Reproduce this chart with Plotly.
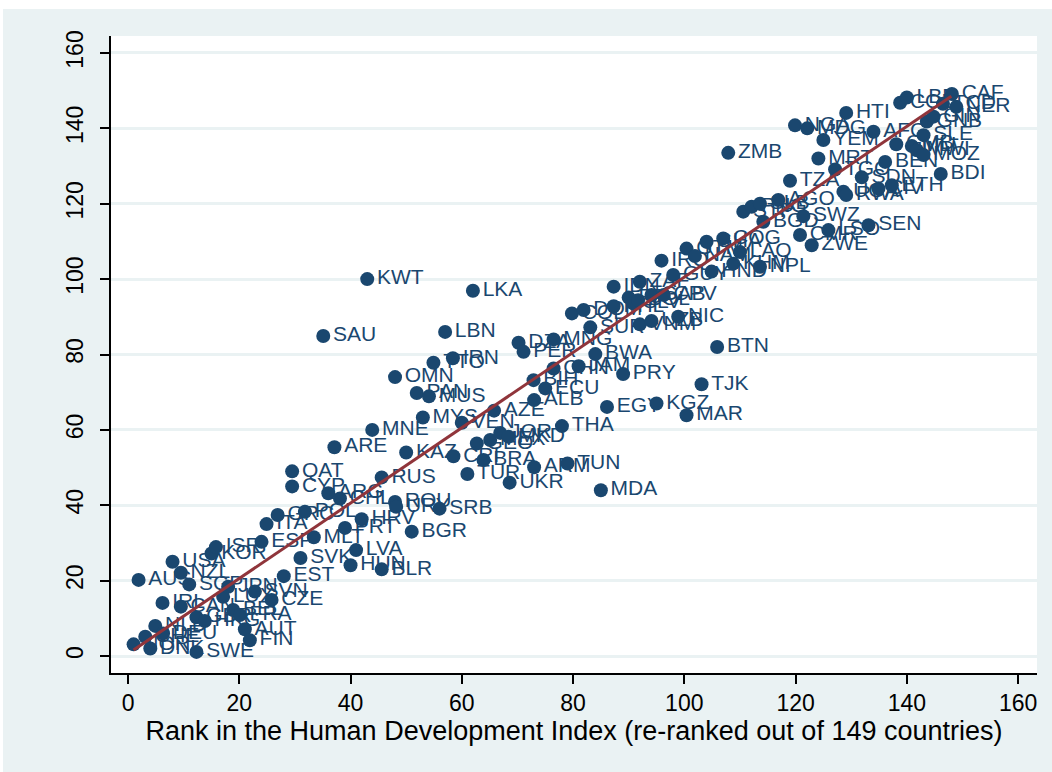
import plotly.graph_objects as go

# ---- data ----
countries = [
    "NOR","AUS","CHE","DNK","NLD","DEU","IRL","USA","NZL","CAN",
    "SGP","SWE","GBR","HKG","KOR","ISR","LUX","JPN","BEL","FRA",
    "AUT","FIN","SVN","ESP","ITA","CZE","GRC","EST","QAT","CYP",
    "SVK","POL","MLT","SAU","ARG","ARE","CHL","PRT","HUN","LVA",
    "HRV","KWT","MNE","RUS","BLR","OMN","ROU","URY","KAZ","BGR",
    "PAN","MYS","MUS","TTO","SRB","LBN","IRN","CRI","VEN","TUR",
    "LKA","GEO","BRA","MEX","AZE","JOR","MKD","UKR","DZA","PER",
    "ALB","ARM","BIH","ECU","CHN","MNG","THA","TUN","COL","JAM",
    "DOM","SUR","BWA","MDA","EGY","PHL","IDN","PRY","FJI","SLV",
    "BOL","VNM","ZAF","GAB","UZB","KGZ","IRQ","CPV","GUY","NIC",
    "MAR","GTM","NAM","TJK","GHA","HND","BTN","COG","ZMB","KHM",
    "LAO","STP","PNG","NPL","SLB","BGD","AGO","TZA","NGA","SWZ",
    "CMR","MDG","ZWE","MRT","YEM","LSO","TGO","UGA","RWA","HTI",
    "SDN","SEN","AFG","CIV","BEN","ETH","GMB","COD","LBR","MLI",
    "MWI","MOZ","SLE","GNB","GIN","BDI","CAF","NER","TCD",
]
hdi_rank = [
    1.0, 1.9, 3.1, 4.0, 4.9, 6.3, 6.2, 8.0, 9.5, 9.5,
    11.0, 12.3, 12.3, 13.8, 15.0, 15.8, 17.1, 18.0, 18.9, 20.1,
    21.0, 21.9, 22.8, 24.0, 24.9, 25.8, 26.9, 28.0, 29.5, 29.5,
    31.0, 31.8, 33.4, 35.1, 36.0, 37.1, 38.1, 39.0, 40.0, 41.0,
    42.0, 43.0, 43.9, 45.6, 45.6, 48.0, 48.0, 48.2, 50.0, 51.0,
    51.9, 53.0, 54.1, 54.9, 56.0, 57.0, 58.4, 58.5, 60.0, 61.0,
    62.0, 62.7, 63.9, 65.1, 65.8, 66.9, 68.4, 68.6, 70.2, 71.1,
    73.0, 73.0, 72.9, 75.0, 76.5, 76.5, 78.0, 79.0, 79.8, 81.0,
    81.9, 83.1, 84.0, 85.0, 86.1, 87.3, 87.3, 89.0, 90.0, 90.8,
    91.7, 92.0, 92.0, 94.1, 94.1, 95.0, 95.9, 96.3, 98.0, 98.9,
    100.4, 100.4, 101.9, 103.1, 104.0, 104.9, 105.9, 107.0, 107.9, 108.8,
    110.0, 110.6, 112.1, 113.6, 113.6, 114.2, 116.9, 119.0, 119.9, 121.4,
    120.8, 122.1, 122.9, 124.1, 125.0, 125.9, 127.1, 128.6, 129.1, 129.1,
    131.9, 133.1, 134.0, 134.9, 136.1, 137.3, 138.1, 138.8, 140.0, 140.9,
    141.8, 143.0, 143.0, 143.6, 144.8, 146.1, 148.1, 148.9, 146.5,
]
other_rank = [
    3.1, 20.2, 5.1, 2.0, 8.0, 6.0, 14.1, 25.0, 22.1, 13.1,
    19.0, 1.1, 10.3, 9.3, 27.2, 28.9, 15.7, 18.4, 12.2, 10.9,
    7.1, 4.2, 17.1, 30.3, 35.0, 14.9, 37.4, 21.2, 49.0, 45.0,
    26.0, 38.3, 31.5, 84.9, 43.2, 55.4, 41.8, 34.0, 24.1, 28.1,
    36.3, 100.0, 60.0, 47.4, 23.0, 74.0, 40.9, 39.6, 54.0, 33.0,
    69.8, 63.3, 68.9, 77.8, 39.1, 86.0, 79.0, 53.0, 61.9, 48.3,
    96.9, 56.4, 52.0, 57.3, 65.1, 59.2, 58.2, 46.0, 83.1, 80.7,
    67.9, 50.1, 73.2, 71.0, 76.3, 84.0, 61.0, 51.1, 90.9, 76.9,
    91.8, 87.2, 80.1, 44.0, 66.1, 92.8, 98.0, 74.8, 95.1, 93.6,
    94.4, 88.0, 99.3, 95.8, 88.9, 67.0, 104.9, 95.8, 101.1, 90.0,
    63.9, 108.1, 106.1, 72.1, 109.9, 102.0, 82.0, 110.8, 133.5, 104.1,
    107.2, 117.9, 119.2, 103.3, 120.0, 115.2, 121.0, 126.1, 140.8, 116.7,
    111.7, 140.0, 109.0, 132.0, 136.9, 113.0, 129.1, 123.2, 122.3, 144.1,
    127.0, 114.3, 139.1, 124.0, 131.1, 124.9, 135.8, 146.8, 148.2, 135.3,
    134.2, 132.9, 138.2, 141.8, 143.1, 127.9, 149.1, 145.7, 146.5,
]
# fitted line end points
fit_x = [1.0, 148.0]
fit_y = [1.6, 148.5]

x_ticks = [0, 20, 40, 60, 80, 100, 120, 140, 160]
y_ticks = [0, 20, 40, 60, 80, 100, 120, 140, 160]
x_title = "Rank in the Human Development Index (re-ranked out of 149 countries)"

NAVY = "#1a476f"
MAROON = "#90353b"
BG = "#EAF2F3"
FONT = "Liberation Sans, Arial, sans-serif"

fig = go.Figure()
fig.add_trace(go.Scatter(
    x=hdi_rank, y=other_rank, text=countries,
    mode="markers+text", textposition="middle right",
    marker=dict(color=NAVY, size=14, line=dict(width=0)),
    textfont=dict(family=FONT, size=21, color=NAVY),
    cliponaxis=False, showlegend=False, hoverinfo="skip",
))
fig.add_trace(go.Scatter(
    x=fit_x, y=fit_y, mode="lines",
    line=dict(color=MAROON, width=3), showlegend=False, hoverinfo="skip",
))

W, H = 1052, 772
L, R, T, B = 111, 15, 36, 99
pw, ph = W - L - R, H - T - B

fig.update_layout(
    width=W, height=H,
    margin=dict(l=L, r=R, t=T, b=B, autoexpand=False),
    paper_bgcolor=BG, plot_bgcolor="white",
    font=dict(family=FONT, color="black"),
    xaxis=dict(
        range=[-3.06, 163.4], tickvals=x_ticks, showgrid=False, zeroline=False,
        showline=True, linecolor="black", linewidth=1.5,
        ticks="outside", ticklen=9, tickwidth=1.5, tickcolor="black",
        tickfont=dict(family=FONT, size=23, color="black"),
        title=dict(text=x_title, font=dict(family=FONT, size=27, color="black"), standoff=3),
        automargin=False,
    ),
    yaxis=dict(
        range=[-4.5, 164.5], tickvals=y_ticks, showgrid=True, gridcolor=BG, gridwidth=2.5,
        zeroline=False, showline=True, linecolor="black", linewidth=1.5,
        ticks="outside", ticklen=9, tickwidth=1.5, tickcolor="black",
        tickangle=-90, ticklabelstandoff=8,
        tickfont=dict(family=FONT, size=23, color="black"),
        automargin=False,
    ),
    shapes=[
        dict(type="rect", xref="paper", yref="paper", layer="above",
             x0=-L / pw - 0.02, x1=(W - L) / pw + 0.02,
             y0=1 + 27 / ph, y1=1 + T / ph + 0.02,
             fillcolor="white", line=dict(width=0)),
        dict(type="rect", xref="paper", yref="paper", layer="above",
             x0=-L / pw - 0.02, x1=-(L - 3) / pw,
             y0=-B / ph - 0.02, y1=1 + T / ph + 0.02,
             fillcolor="white", line=dict(width=0)),
    ],
)

fig.write_html(
    "out.html",
    config={"displayModeBar": False},
    post_script="document.body.style.margin='0';document.body.style.overflow='hidden';",
)
